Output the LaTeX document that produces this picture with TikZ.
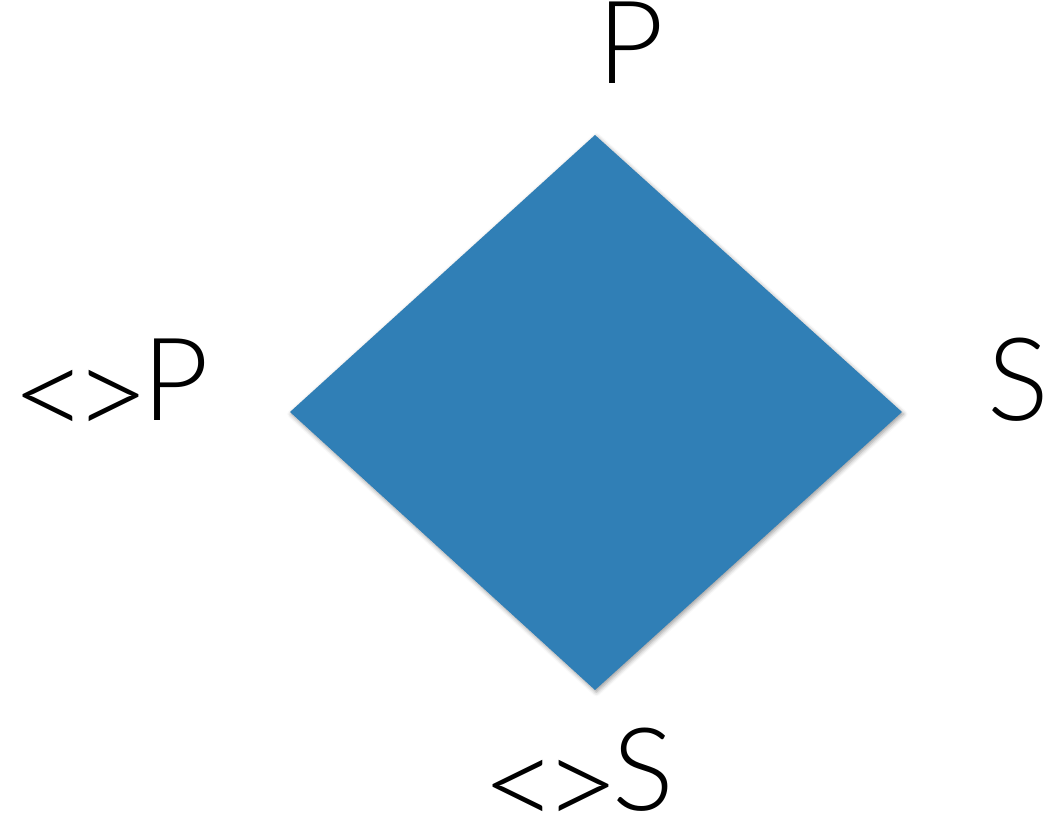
\documentclass[tikz,border=0pt]{standalone}
\usepackage{fontspec}
\usepackage{graphicx}
\setmainfont{Lato Light}
\usetikzlibrary{shadows.blur}
\definecolor{azulrombo}{RGB}{48,127,182}
% corchetes angulares grandes, como en el dibujo original
\newcommand{\angulos}{\raisebox{-0.16em}{\scalebox{1.15}[1.1]{<}}\kern-0.13em\raisebox{-0.16em}{\scalebox{1.15}[1.1]{>}}\kern-0.07em}
\tikzset{
  etiqueta/.style={inner sep=0pt, font=\fontsize{82}{82}\selectfont},
}
\begin{document}
\begin{tikzpicture}[x=0.025cm, y=-0.025cm]

 % --- MARCO (mismo tamaño que la imagen) ---
 \useasboundingbox (0,0) rectangle (1044,819);

 % --- ROMBO ---
 \coordinate (arriba) at (595,135);
 \coordinate (derecha) at (902,412);
 \coordinate (abajo) at (595,690);
 \coordinate (izquierda) at (290,412);
 \fill[azulrombo, blur shadow={shadow xshift=1pt, shadow yshift=-1.5pt, shadow blur radius=3pt, shadow opacity=40}]
   (arriba) -- (derecha) -- (abajo) -- (izquierda) -- cycle;

 % --- ETIQUETAS ---
 \node[etiqueta, anchor=base] (p) at (631,84) {P};
 \node[etiqueta, anchor=base] (s) at (1018,420) {S};
 \node[etiqueta, anchor=base west] (np) at (11,420) {\angulos P};
 \node[etiqueta, anchor=base west] (ns) at (481,810) {\angulos S};

\end{tikzpicture}
\end{document}
